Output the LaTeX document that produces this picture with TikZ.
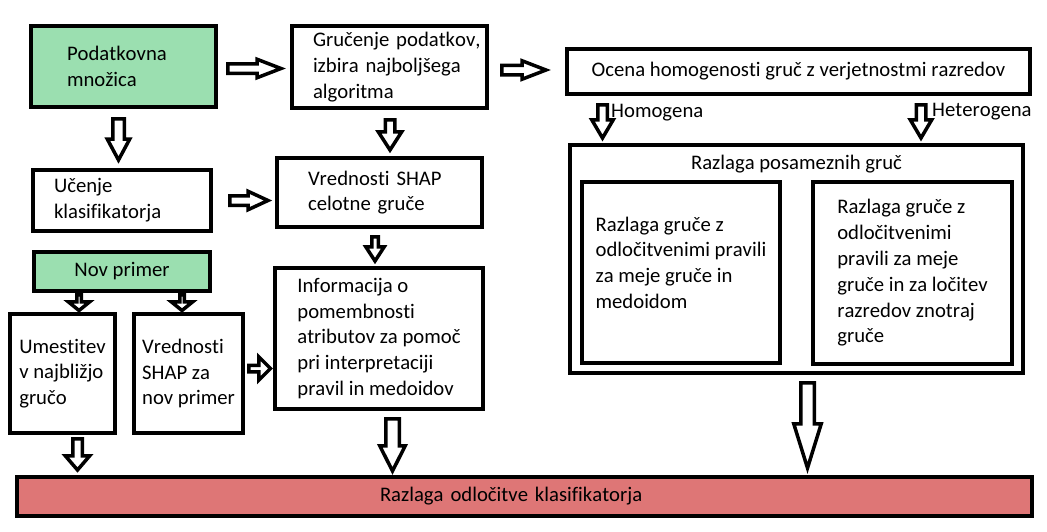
\documentclass[tikz,border=0pt]{standalone}
\usepackage{fontspec}
\setmainfont{Carlito}[Ligatures={NoCommon,NoContextual}, Kerning=Off]
\usepackage{tikz}
\usetikzlibrary{positioning, calc}
\definecolor{datagreen}{RGB}{155,223,176}
\definecolor{barred}{RGB}{222,118,118}

\begin{document}
\begin{tikzpicture}[
    x=1pt, y=-1pt,
    font=\fontsize{20.7}{25.8}\selectfont,
    box/.style={rectangle, draw, line width=4pt, outer sep=0pt, inner sep=0pt, align=left},
    lbl/.style={inner sep=0pt},
    barrow/.style n args={3}{draw, line width=3.5pt, line join=miter, fill=white,
        to path={let \p1=($(\tikztotarget)-(\tikztostart)$), \n1={atan2(\y1,\x1)}, \n2={veclen(\x1,\y1)-#3} in
            ($(\tikztostart)+(\n1+90:#1)$) -- ($(\tikztostart)+(\n1:\n2)+(\n1+90:#1)$)
            -- ($(\tikztostart)+(\n1:\n2)+(\n1+90:#2)$) -- (\tikztotarget)
            -- ($(\tikztostart)+(\n1:\n2)+(\n1-90:#2)$) -- ($(\tikztostart)+(\n1:\n2)+(\n1-90:#1)$)
            -- ($(\tikztostart)+(\n1-90:#1)$) -- cycle}}
]
    \useasboundingbox (0,0) rectangle (1047,531);

    % Boxes
    \node [box, fill=datagreen, minimum width=185pt, minimum height=81pt, text width=113pt] (data) at (123.5,66.5) {Podatkovna\\množica};
    \node [box, minimum width=195pt, minimum height=82pt, text width=153pt] (clust) at (389.5,67) {\mbox{Gručenje podatkov,}\\\mbox{izbira najboljšega}\\algoritma};
    \node [box, minimum width=463pt, minimum height=45pt] (ocena) at (798.5,71.5) {Ocena homogenosti gruč z verjetnostmi razredov};
    \node [box, minimum width=178pt, minimum height=61pt, text width=136pt] (learn) at (122,200.5) {Učenje\\klasifikatorja};
    \node [box, minimum width=205pt, minimum height=69pt, text width=143pt] (shapall) at (379.5,192.5) {Vrednosti SHAP\\celotne gruče};
    \node [box, fill=datagreen, minimum width=176pt, minimum height=39pt] (nov) at (122,271.5) {Nov primer};
    \node [box, minimum width=105pt, minimum height=119pt] (place) at (62.5,373.5) {Umestitev\\v najbližjo\\gručo};
    \node [box, minimum width=109pt, minimum height=119pt] (shapnew) at (188.5,373.5) {Vrednosti\\SHAP za\\nov primer};
    \node [box, minimum width=208pt, minimum height=141pt] (info) at (379,338.5) {Informacija o\\pomembnosti\\atributov za pomoč\\pri interpretaciji\\pravil in medoidov};

    % Per-cluster explanation
    \node [box, minimum width=453pt, minimum height=228pt] (split) at (796.5,259) {};
    \node [lbl, anchor=base] (splittitle) at ([yshift=-24pt]split.north) {Razlaga posameznih gruč};
    \node [box, minimum width=198pt, minimum height=181pt] (homog) at (681,272.5) {Razlaga gruče z\\odločitvenimi pravili\\za meje gruče in\\medoidom\\[-6pt]\mbox{}};
    \node [box, minimum width=199pt, minimum height=182pt] (heterog) at (912.5,273) {Razlaga gruče z\\odločitvenimi\\pravili za meje\\gruče in za ločitev\\razredov znotraj\\gruče};

    \node [box, fill=barred, minimum width=1015pt, minimum height=39pt, text width=289pt] (bar) at (524.5,496.5) {Razlaga odločitve klasifikatorja};

    % Labels
    \node [lbl, anchor=base west] (homlbl) at (611,117) {Homogena};
    \node [lbl, anchor=base west] (hetlbl) at (932,116) {Heterogena};

    % Arrows
    \draw [barrow={5.75pt}{11.25pt}{21pt}] ([xshift=-5pt,yshift=-11.75pt]data.south) to ([xshift=-3.5pt,yshift=10pt]learn.north);
    \draw [barrow={4.75pt}{9.25pt}{24pt}] ([xshift=11.75pt,yshift=-2pt]data.east) to ([xshift=-11pt,yshift=-1.5pt]clust.west);
    \draw [barrow={4.75pt}{9.25pt}{24pt}] ([xshift=14.75pt,yshift=-3pt]clust.east) to ([xshift=-21pt,yshift=1.5pt]ocena.west);
    \draw [barrow={4.75pt}{9.25pt}{20pt}] ([xshift=18.75pt]learn.east) to ([xshift=-9pt,yshift=-8pt]shapall.west);
    \draw [barrow={4.75pt}{11.75pt}{18.25pt}] ([xshift=0.5pt,yshift=-11.75pt]clust.south) to ([xshift=10.5pt,yshift=8pt]shapall.north);
    \draw [barrow={3.25pt}{9.25pt}{14.25pt}] ([xshift=-4.5pt,yshift=-9.75pt]shapall.south) to ([xshift=-4pt,yshift=7pt]info.north);
    \draw [barrow={2.25pt}{10.75pt}{8.75pt}] ([xshift=-43pt,yshift=-3.75pt]nov.south) to ([xshift=16.5pt,yshift=3.5pt]place.north);
    \draw [barrow={2.25pt}{10.75pt}{8.75pt}] ([xshift=60pt,yshift=-3.75pt]nov.south) to ([xshift=-6.5pt,yshift=3.5pt]shapnew.north);
    \draw [barrow={3.25pt}{11.75pt}{11.75pt}] ([xshift=5.75pt,yshift=5pt]shapnew.east) to ([xshift=-4.5pt,yshift=-30pt]info.west);
    \draw [barrow={4.75pt}{12.25pt}{14.25pt}] ([xshift=15pt,yshift=-5.75pt]place.south) to ([xshift=-447pt,yshift=7pt]bar.north);
    \draw [barrow={6.75pt}{12.75pt}{25.25pt}] ([xshift=13.5pt,yshift=-9.75pt]info.south) to ([xshift=-132pt,yshift=6pt]bar.north);
    \draw [barrow={6.75pt}{13.75pt}{44.25pt}] ([xshift=11pt,yshift=-9.75pt]split.south) to ([xshift=283pt,yshift=9pt]bar.north);
    \draw [barrow={4.75pt}{10.75pt}{18.25pt}] ([xshift=-196pt,yshift=-10.75pt]ocena.south) to ([xshift=-194pt,yshift=7pt]split.north);
    \draw [barrow={4.75pt}{10.75pt}{18.25pt}] ([xshift=122.5pt,yshift=-10.75pt]ocena.south) to ([xshift=124.5pt,yshift=7pt]split.north);
\end{tikzpicture}
\end{document}
